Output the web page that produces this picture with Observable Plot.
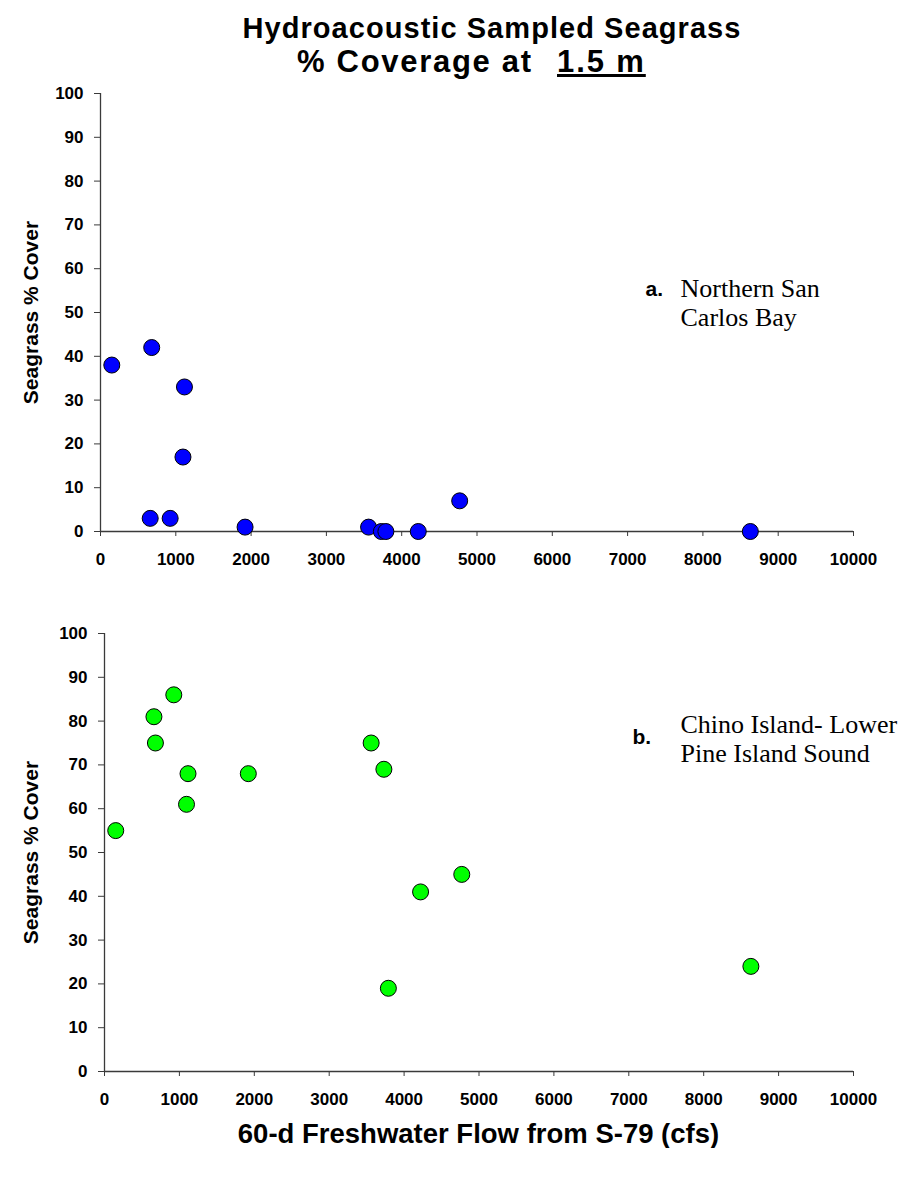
<!DOCTYPE html>
<html>
<head>
<meta charset="utf-8">
<script src="https://cdn.jsdelivr.net/npm/d3@7"></script>
<script src="https://cdn.jsdelivr.net/npm/@observablehq/plot@0.6"></script>
<style>
  html, body { margin: 0; padding: 0; background: white; }
  #root { width: 904px; }
  .title { position: relative; height: 80px; font-family: "Liberation Sans", Arial, sans-serif;
           font-weight: bold; color: black; }
  .title div { position: absolute; white-space: pre; line-height: 1.117em; }
  .t1 { top: 12px; left: 80px; right: 0; text-align: center; font-size: 29px; letter-spacing: 1.05px; }
  .t2 { top: 45px; left: 297px; font-size: 31px; letter-spacing: 1.7px; }
  .t3 { top: 45px; left: 557px; font-size: 31px; letter-spacing: 1.9px;
        text-decoration: underline; text-decoration-thickness: 3px; text-underline-offset: 2px; }
  .xtitle { box-sizing: border-box; padding-left: 104px; padding-right: 51px; text-align: center;
            font-family: "Liberation Sans", Arial, sans-serif; font-weight: bold; font-size: 27.5px;
            line-height: 28px; color: black; }
  svg { display: block; }
</style>
</head>
<body>
<div id="root">
  <div class="title">
    <div class="t1" id="t1"></div>
    <div class="t2" id="t2"></div>
    <div class="t3" id="t3"></div>
  </div>
  <div id="top"></div>
  <div id="bottom"></div>
  <div class="xtitle" id="xtitle"></div>
</div>
<script>
// ---- data ----
const flow   = [150, 660, 680, 925, 1095, 1115, 1920, 3560, 3730, 3790, 4220, 4770, 8630];
const coverA = [38,    3,  42,   3,   17,   33,    1,    1,    0,    0,    0,    7,    0];
const coverB = [55,   81,  75,  86,   61,   68,   68,   75,   69,   19,   41,   45,   24];
const xTicks = [0, 1000, 2000, 3000, 4000, 5000, 6000, 7000, 8000, 9000, 10000];
const yTicks = [0, 10, 20, 30, 40, 50, 60, 70, 80, 90, 100];
const titleLine1 = "Hydroacoustic Sampled Seagrass";
const titleLine2 = "% Coverage at";
const titleDepth = "1.5 m";
const yTitle = "Seagrass % Cover";
const xTitle = "60-d Freshwater Flow from S-79 (cfs)";
const labelA = "a.";
const linesA = ["Northern San", "Carlos Bay"];
const labelB = "b.";
const linesB = ["Chino Island- Lower", "Pine Island Sound"];

const axisColor = "#3a3a3a";
const sans = "Liberation Sans, Arial, sans-serif";
const serif = "Liberation Serif, Times New Roman, serif";

function panel(o) {
  const data = flow.map((x, i) => ({x, y: o.values[i]}));
  return Plot.plot({
    width: 904,
    height: o.height,
    marginTop: o.marginTop,
    marginBottom: o.marginBottom,
    marginLeft: o.marginLeft,
    marginRight: 51,
    style: {fontFamily: sans, fontSize: "17px", fontWeight: "bold", color: "black", background: "transparent", overflow: "visible"},
    x: {domain: [0, 10000]},
    y: {domain: [0, 100]},
    marks: [
      Plot.axisX({ticks: xTicks, tickFormat: d => String(d), tickSize: 5, tickPadding: 16, label: null,
                  stroke: axisColor, fill: "black", fontSize: 17, fontWeight: "bold"}),
      Plot.axisY({ticks: yTicks, tickFormat: d => String(d), tickSize: 6, tickPadding: 11, label: null,
                  stroke: axisColor, fill: "black", fontSize: 17, fontWeight: "bold"}),
      Plot.ruleX([0], {stroke: axisColor, strokeWidth: 1.3}),
      Plot.ruleY([0], {stroke: axisColor, strokeWidth: 1.3}),
      Plot.dot(data, {x: "x", y: "y", r: 8, fill: o.fill, stroke: "black", strokeWidth: 1}),
      Plot.text([yTitle], {frameAnchor: "left", textAnchor: "middle", rotate: -90, dx: o.yTitleDx,
                           fontSize: 21, fontWeight: "bold", fontFamily: sans}),
      Plot.text([o.letter], {frameAnchor: "top-left", textAnchor: "start", lineAnchor: "top",
                             dx: o.letterDx, dy: o.letterDy, fontSize: 21, fontWeight: "bold", fontFamily: sans}),
      Plot.text([o.lines.join("\n")], {frameAnchor: "top-left", textAnchor: "start", lineAnchor: "top",
                             dx: o.linesDx, dy: o.linesDy, fontSize: 26, lineHeight: 1.08,
                             fontWeight: "normal", fontFamily: serif})
    ]
  });
}

document.getElementById("t1").textContent = titleLine1;
document.getElementById("t2").textContent = titleLine2;
document.getElementById("t3").textContent = titleDepth;
document.getElementById("top").append(panel({
  values: coverA, fill: "#0000ff", height: 500, marginTop: 13, marginBottom: 49, marginLeft: 100,
  yTitleDx: -69, letter: labelA, letterDx: 545, letterDy: 188, lines: linesA, linesDx: 580, linesDy: 184
}));
document.getElementById("bottom").append(panel({
  values: coverB, fill: "#00ff00", height: 540, marginTop: 53, marginBottom: 49, marginLeft: 104,
  yTitleDx: -73, letter: labelB, letterDx: 528, letterDy: 96, lines: linesB, linesDx: 576, linesDy: 80
}));
document.getElementById("xtitle").textContent = xTitle;
</script>
</body>
</html>
